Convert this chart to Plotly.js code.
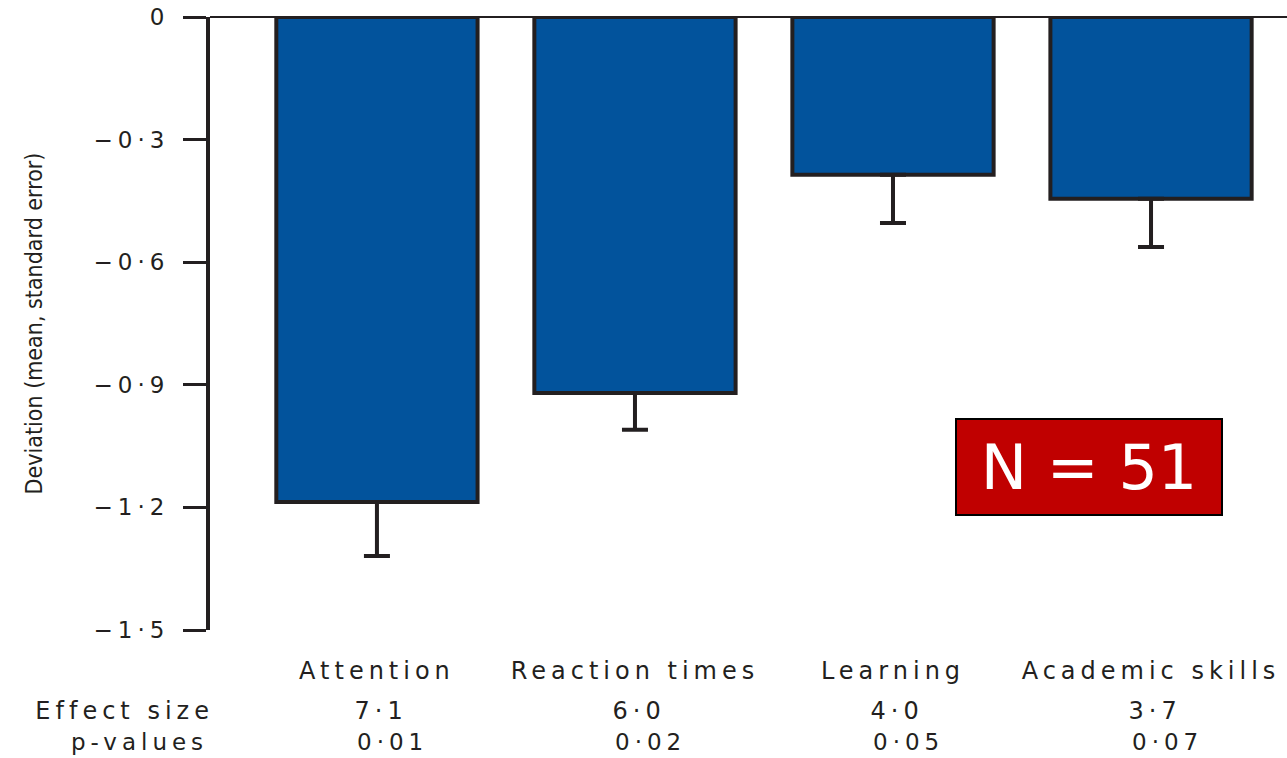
<!DOCTYPE html>
<html>
<head>
<meta charset="utf-8">
<script src="https://cdn.plot.ly/plotly-3.0.1.min.js"></script>
<style>
  html, body { margin: 0; padding: 0; background: #fff; }
  #chart { width: 1287px; height: 758px; }
  /* widen the outcome-table lettering */
  .ytick text { letter-spacing: 5px; }
  .xtick text { letter-spacing: 5px; }
  .annotation:not([data-index="0"]) text { letter-spacing: 5px; }
</style>
</head>
<body>
<div id="chart"></div>
<script>
// Outcome domains and their mean deviation (standard-error units)
const domains = ["Attention", "Reaction times", "Learning", "Academic skills"];
const deviation = [-1.187, -0.92, -0.386, -0.445];
const stdError = [0.132, 0.09, 0.118, 0.118];
const effectSize = ["7·1", "6·0", "4·0", "3·7"];
const pValues = ["0·01", "0·02", "0·05", "0·07"];
const yTickVals = [0, -0.3, -0.6, -0.9, -1.2, -1.5];
const yTickText = ["0", "−0·3", "−0·6", "−0·9", "−1·2", "−1·5"];
const sampleSize = 51;

const ink = "#231f20";
const labelFont = { family: "DejaVu Sans, Verdana, sans-serif", size: 24, color: ink };
const rowFont = { family: "DejaVu Sans, Verdana, sans-serif", size: 23, color: ink };

const trace = {
  type: "bar",
  x: domains,
  y: deviation,
  width: 0.78,
  marker: { color: "#02539c", line: { color: ink, width: 4 } },
  error_y: {
    type: "data",
    symmetric: false,
    array: domains.map(() => 0),
    arrayminus: stdError,
    color: ink,
    thickness: 4,
    width: 13
  },
  hoverinfo: "skip"
};

const annotations = [{
  xref: "paper", yref: "paper", x: 0.816, y: 0.266,
  xanchor: "center", yanchor: "middle",
  text: "N = " + sampleSize,
  showarrow: false,
  font: { family: "DejaVu Sans, Verdana, sans-serif", size: 62, color: "#ffffff" },
  bgcolor: "#c00000",
  bordercolor: "#000000",
  borderwidth: 2,
  borderpad: 0,
  width: 264,
  height: 94
}];

// row headers of the table under the bars
annotations.push({
  xref: "paper", yref: "paper", x: 0, y: -0.132, xanchor: "right", yanchor: "middle",
  xshift: -22, text: "Effect size", showarrow: false, font: labelFont
});
annotations.push({
  xref: "paper", yref: "paper", x: 0, y: -0.183, xanchor: "right", yanchor: "middle",
  xshift: -20, text: "p-values", showarrow: false, font: rowFont
});
domains.forEach((d, i) => {
  annotations.push({
    xref: "x", yref: "paper", x: d, y: -0.132, xanchor: "center", yanchor: "middle",
    xshift: 4, text: effectSize[i], showarrow: false, font: labelFont
  });
  annotations.push({
    xref: "x", yref: "paper", x: d, y: -0.183, xanchor: "center", yanchor: "middle",
    xshift: 16, text: pValues[i], showarrow: false, font: rowFont
  });
});

const layout = {
  width: 1287,
  height: 758,
  margin: { l: 210, r: 0, t: 17, b: 128 },
  paper_bgcolor: "#ffffff",
  plot_bgcolor: "#ffffff",
  showlegend: false,
  xaxis: {
    type: "category",
    range: [-0.647, 3.527],
    showgrid: false,
    zeroline: false,
    showline: false,
    ticks: "",
    tickfont: labelFont,
    ticklabelstandoff: 24,
    fixedrange: true
  },
  yaxis: {
    range: [-1.5, 0],
    tickvals: yTickVals,
    ticktext: yTickText,
    tickfont: { family: "DejaVu Sans, Verdana, sans-serif", size: 23, color: ink },
    ticks: "outside",
    ticklen: 23,
    tickwidth: 3,
    tickcolor: ink,
    ticklabelstandoff: 9,
    showline: true,
    linewidth: 4,
    linecolor: ink,
    showgrid: false,
    zeroline: true,
    zerolinecolor: ink,
    zerolinewidth: 2,
    title: {
      text: "Deviation (mean, standard error)",
      font: { family: "Liberation Sans Narrow, DejaVu Sans Condensed, sans-serif", size: 23, color: ink },
      standoff: 45
    },
    fixedrange: true
  },
  annotations: annotations
};

Plotly.newPlot("chart", [trace], layout, { displayModeBar: false, staticPlot: true });
</script>
</body>
</html>
